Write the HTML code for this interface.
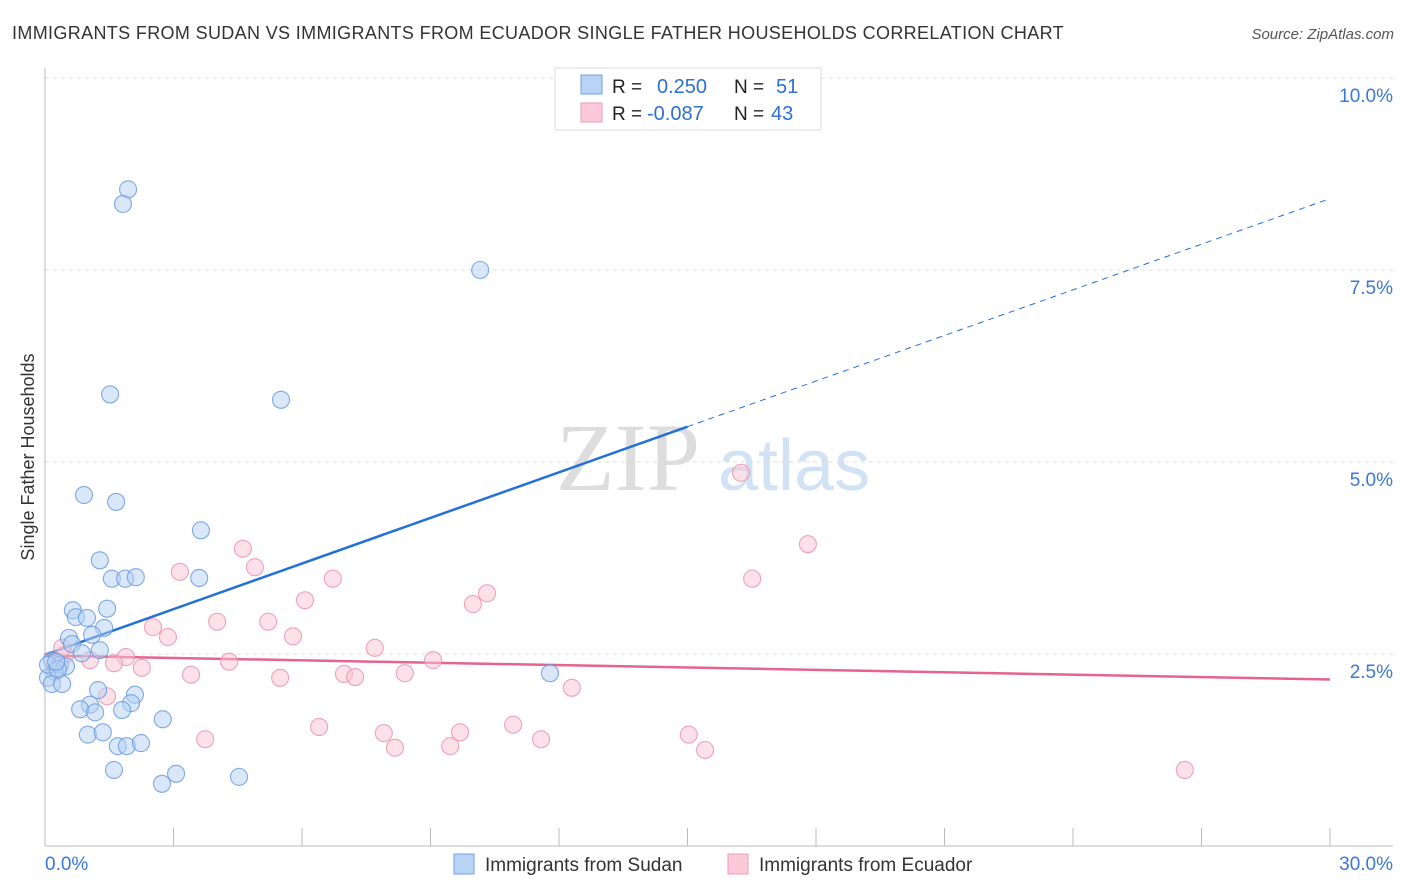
<!DOCTYPE html>
<html><head><meta charset="utf-8"><style>
body{margin:0;width:1406px;height:892px;background:#fff;font-family:"Liberation Sans",sans-serif;overflow:hidden}
svg{display:block}
</style></head><body>
<svg id="chart" width="1406" height="892">
<text x="12" y="39" font-size="18" fill="#333" letter-spacing="0.35">IMMIGRANTS FROM SUDAN VS IMMIGRANTS FROM ECUADOR SINGLE FATHER HOUSEHOLDS CORRELATION CHART</text>
<text x="1394" y="39" font-size="15" fill="#555" font-style="italic" text-anchor="end">Source: ZipAtlas.com</text>
<g>
<text x="556" y="490" font-size="96" font-family="Liberation Serif,serif" fill="#ddd">ZIP</text>
<text x="718" y="490" font-size="72" fill="#d2e2f5">atlas</text>
</g>
<g id="grid"></g>
<g id="axes"></g>
<g id="lines"></g>
<g id="points"></g>
<text transform="translate(34,457) rotate(-90)" font-size="18" fill="#333" text-anchor="middle">Single Father Households</text>
<g>
<rect x="555" y="68" width="266" height="62" fill="#fff" stroke="#ddd"/>
<rect x="581" y="75" width="21" height="19" fill="#b9d3f5" stroke="#6fa0e0"/>
<rect x="581" y="103" width="21" height="19" fill="#fbc9d8" stroke="#ee9ab5"/>
<text x="612" y="93" font-size="19" fill="#222">R = </text><text x="657" y="93" font-size="20" fill="#2d6fd4">0.250</text>
<text x="734" y="93" font-size="19" fill="#222">N = </text><text x="776" y="93" font-size="20" fill="#2d6fd4">51</text>
<text x="612" y="120" font-size="19" fill="#222">R = </text><text x="647" y="120" font-size="20" fill="#2d6fd4">-0.087</text>
<text x="734" y="120" font-size="19" fill="#222">N = </text><text x="771" y="120" font-size="20" fill="#2d6fd4">43</text>
</g>
<g>
<rect x="454" y="854" width="20" height="20" fill="#b9d3f5" stroke="#6fa0e0"/>
<text x="485" y="871" font-size="19" fill="#333">Immigrants from Sudan</text>
<rect x="728" y="854" width="20" height="20" fill="#fbc9d8" stroke="#ee9ab5"/>
<text x="759" y="871" font-size="19" fill="#333">Immigrants from Ecuador</text>
</g>
</svg>
<script>
const yTicks=[2.5,5,7.5,10];
const yTickLabels=["2.5%","5.0%","7.5%","10.0%"];
const xTickLabels=["0.0%","30.0%"];
const sudanX=[1.94,1.82,10.16,1.52,5.51,0.91,1.66,3.64,1.28,1.56,1.87,2.12,3.60,0.65,1.45,0.72,0.98,1.38,1.10,0.56,0.63,1.28,0.86,0.16,0.35,0.49,0.23,0.07,0.16,0.40,1.24,2.10,2.01,1.05,0.82,1.17,1.80,2.75,1.00,1.35,1.70,1.91,2.24,1.61,3.06,2.73,4.53,11.79,0.07,0.30,0.26];
const sudanY=[8.55,8.36,7.50,5.88,5.81,4.57,4.48,4.11,3.72,3.48,3.48,3.50,3.49,3.07,3.09,2.98,2.97,2.84,2.75,2.71,2.63,2.55,2.51,2.42,2.36,2.34,2.27,2.19,2.11,2.11,2.03,1.97,1.86,1.84,1.78,1.74,1.77,1.65,1.45,1.48,1.30,1.30,1.34,0.99,0.94,0.81,0.90,2.25,2.36,2.30,2.40];
const ecuadorX=[16.25,17.81,4.62,3.15,4.90,6.72,16.51,10.32,9.99,6.07,2.52,2.87,4.02,5.21,5.79,7.70,9.06,1.89,1.05,0.47,1.61,2.26,3.41,4.30,5.49,6.98,7.24,8.40,12.30,1.45,6.40,3.74,7.91,8.17,9.69,9.46,10.93,11.58,15.03,15.41,26.61,0.40,0.23];
const ecuadorY=[4.86,3.93,3.87,3.57,3.63,3.48,3.48,3.29,3.15,3.20,2.85,2.72,2.92,2.92,2.73,2.58,2.42,2.46,2.42,2.49,2.38,2.32,2.23,2.40,2.19,2.24,2.20,2.25,2.06,1.95,1.55,1.39,1.47,1.28,1.48,1.30,1.58,1.39,1.45,1.25,0.99,2.58,2.36];
const sudanTrend=[2.49,0.198];
const ecuadorTrend=[2.48,-0.0104];

const X0=45,X1=1330,Y0=846,YPER=192/2.5;
const sx=v=>X0+(v/30)*(X1-X0);
const sy=v=>Y0-v*YPER;
const NS="http://www.w3.org/2000/svg";
function mk(tag,attrs,parent){const e=document.createElementNS(NS,tag);for(const k in attrs)e.setAttribute(k,attrs[k]);parent.appendChild(e);return e;}
const grid=document.getElementById('grid'),axes=document.getElementById('axes'),lines=document.getElementById('lines'),pts=document.getElementById('points');
yTicks.forEach((t,i)=>{
  const l=mk('line',{x1:45,x2:1393,y1:sy(t),y2:sy(t),stroke:'#ddd','stroke-dasharray':'4,4'},grid);
  
  
  const tx=mk('text',{x:1393,y:sy(t)+24,'font-size':19,fill:'#3a78d8','text-anchor':'end'},axes);
  tx.textContent=yTickLabels[i];
  
  
});
const ax=mk('line',{x1:45,x2:45,y1:68,y2:846,stroke:'#bbb'},axes);


const bx=mk('line',{x1:45,x2:1393,y1:846,y2:846,stroke:'#bbb'},axes);


for(let i=1;i<=10;i++){
  const t=mk('line',{x1:sx(i*3),x2:sx(i*3),y1:828,y2:846,stroke:'#bbb'},axes);
  
  
}
[[0,'start',45],[30,'end',1393]].forEach((d,i)=>{
  const t=mk('text',{x:d[2],y:870,'font-size':19,fill:'#3a78d8','text-anchor':d[1]},axes);
  t.textContent=xTickLabels[i];
  
  
});
function dots(xs,ys,fill,stroke,name){
  xs.forEach((x,i)=>{
    const c=mk('circle',{cx:sx(x),cy:sy(ys[i]),r:8.5,fill:fill,'fill-opacity':0.5,stroke:stroke,'stroke-opacity':0.85,'stroke-width':1.1},pts);
    
    
  });
}
dots(ecuadorX,ecuadorY,'#f9c3d4','#ea93b0','point-ecuador');
dots(sudanX,sudanY,'#b3cff3','#6a9be0','point-sudan');
const s1=mk('line',{x1:sx(0),y1:sy(sudanTrend[0]),x2:sx(15),y2:sy(sudanTrend[0]+15*sudanTrend[1]),stroke:'#2270d8','stroke-width':2.5},lines);


const s2=mk('line',{x1:sx(15),y1:sy(sudanTrend[0]+15*sudanTrend[1]),x2:sx(30),y2:sy(sudanTrend[0]+30*sudanTrend[1]),stroke:'#2270d8','stroke-width':1,'stroke-dasharray':'6,5'},lines);


const e1=mk('line',{x1:sx(0),y1:sy(ecuadorTrend[0]),x2:sx(30),y2:sy(ecuadorTrend[0]+30*ecuadorTrend[1]),stroke:'#e4638f','stroke-width':2.5},lines);


</script>
</body></html>
